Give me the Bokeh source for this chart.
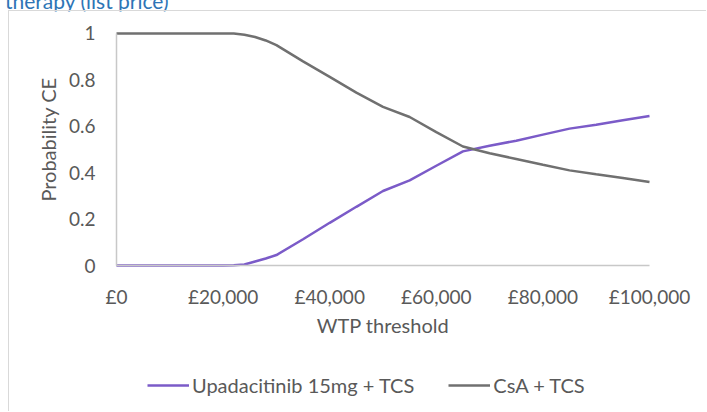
import math
from bokeh.plotting import figure
from bokeh.models import Legend, LegendItem, Div, Label
from bokeh.layouts import column
from bokeh.embed import file_html
from bokeh.resources import INLINE

# WTP thresholds (GBP)
wtp = [0, 5000, 10000, 15000, 20000, 22000, 24000, 26000, 28000, 30000, 35000, 40000,
       45000, 50000, 55000, 60000, 65000, 70000, 75000, 80000, 85000, 90000, 95000, 100000]
upa = [0, 0, 0, 0, 0, 0.001, 0.004, 0.017, 0.03, 0.045, 0.113, 0.184,
       0.253, 0.321, 0.367, 0.43, 0.492, 0.516, 0.538, 0.564, 0.59, 0.607, 0.626, 0.644]
csa = [1, 1, 1, 1, 1, 1, 0.995, 0.985, 0.97, 0.95, 0.88, 0.813,
       0.745, 0.684, 0.64, 0.575, 0.513, 0.484, 0.459, 0.434, 0.41, 0.393, 0.377, 0.36]
series_names = ["Upadacitinib 15mg + TCS", "CsA + TCS"]
x_ticks = [0, 20000, 40000, 60000, 80000, 100000]
x_tick_labels = ["£0", "£20,000", "£40,000", "£60,000", "£80,000", "£100,000"]
y_ticks = [0, 0.2, 0.4, 0.6, 0.8, 1]
y_tick_labels = ["0", "0.2", "0.4", "0.6", "0.8", "1"]
x_title = "WTP threshold"
y_title = "Probability CE"

FONT = "Lato"
TXT = "#595959"

# The frame covers the whole chart area; axes sit at the data origin.
p = figure(width=698, height=401, output_backend="svg", toolbar_location=None,
           x_range=(-20075, 110882), y_range=(-0.6336, 1.0948),
           min_border_left=0, min_border_right=0, min_border_top=0, min_border_bottom=0)
p.styles = {"border-left": "1px solid #d9d9d9", "border-top": "1px solid #d9d9d9",
            "margin-left": "8px"}
p.outline_line_color = None
p.xgrid.grid_line_color = None
p.ygrid.grid_line_color = None

r1 = p.line(wtp, upa, line_color="#7B5BC8", line_width=2.5)
r2 = p.line(wtp, csa, line_color="#707070", line_width=2.5)

for ax in (p.xaxis[0], p.yaxis[0]):
    ax.major_tick_line_color = None
    ax.minor_tick_line_color = None
    ax.axis_line_color = "#c8c8c8"
    ax.axis_line_width = 1.5
    ax.major_label_text_font = FONT
    ax.major_label_text_font_size = "19px"
    ax.major_label_text_color = TXT
    ax.fixed_location = 0

p.xaxis.bounds = (0, 100000)
p.xaxis.ticker = x_ticks
p.xaxis.major_label_overrides = dict(zip(x_ticks, x_tick_labels))
p.xaxis.major_label_standoff = 13

p.yaxis.bounds = (0, 1)
p.yaxis.ticker = y_ticks
p.yaxis.major_label_overrides = dict(zip(y_ticks, y_tick_labels))
p.yaxis.major_label_standoff = 15

p.add_layout(Label(x=50000, y=0, y_offset=-59, text=x_title,
                   text_align="center", text_baseline="middle",
                   text_font=FONT, text_font_size="20px", text_color=TXT))
p.add_layout(Label(x=0, y=0.543, x_offset=-68, text=y_title, angle=math.pi / 2,
                   text_align="center", text_baseline="middle",
                   text_font=FONT, text_font_size="20px", text_color=TXT))

legend = Legend(items=[LegendItem(label=series_names[0], renderers=[r1]),
                       LegendItem(label=series_names[1], renderers=[r2])],
                orientation="horizontal", location=(138, 15),
                label_text_font=FONT, label_text_font_size="20px", label_text_color=TXT,
                border_line_color=None, background_fill_alpha=0,
                glyph_width=42, label_standoff=3, spacing=34, padding=0, margin=0)
p.add_layout(legend)

title = Div(text='<span style="position:relative; top:-19px; color:#2E75B6; font-family:Lato; font-size:21px; white-space:nowrap;">therapy (list price)</span>',
            width=300, height=0)

layout = column(title, p, spacing=0)
open("out.html", "w").write(file_html(layout, INLINE))
